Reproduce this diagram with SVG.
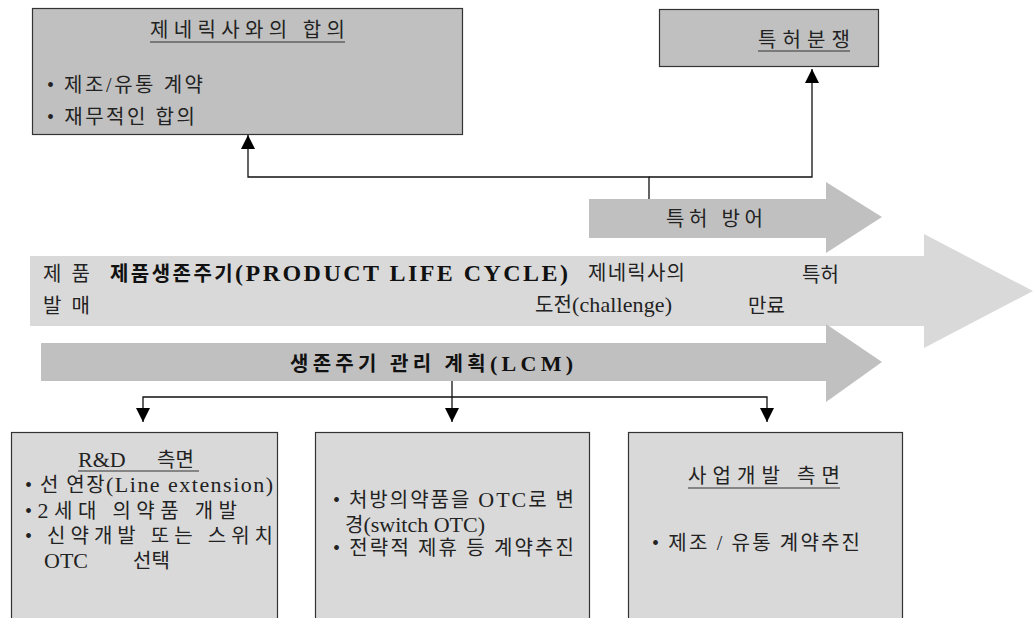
<svg xmlns="http://www.w3.org/2000/svg" width="1033" height="618" viewBox="0 0 1033 618">
<defs>
<style>
.t{font-family:"Liberation Serif","Noto Sans CJK KR",serif;font-size:20px;fill:#222}
.L{font-size:22px}
.BL{font-size:24px}
.b{font-weight:bold;fill:#111}
.box1{fill:#c0c0c0;stroke:#333;stroke-width:1.2}
.box2{fill:#d9d9d9;stroke:#333;stroke-width:1.2}
.ul{stroke:#333;stroke-width:1.2}
.arL{fill:#d9d9d9}
.arD{fill:#c0c0c0}
.c{fill:none;stroke:#111;stroke-width:1.3}
</style>
<marker id="ah" viewBox="0 0 10 10" refX="10" refY="5" markerWidth="15" markerHeight="14" orient="auto" markerUnits="userSpaceOnUse">
<path d="M0,0 L10,5 L0,10 z" fill="#000"/>
</marker>
</defs>
<rect width="1033" height="618" fill="#fff"/>

<g id="plc-arrow">
<polygon class="arL" points="30,256 924,256 924,234 1033,291 924,348 924,326 30,326"/>
<text class="t" x="43" y="281" textLength="47" lengthAdjust="spacing">제 품</text>
<text class="t b" x="110" y="281" textLength="458" lengthAdjust="spacing">제품생존주기<tspan class="BL">(PRODUCT LIFE CYCLE)</tspan></text>
<text class="t" x="588" y="280" textLength="97" lengthAdjust="spacing">제네릭사의</text>
<text class="t" x="802" y="282" textLength="37" lengthAdjust="spacing">특허</text>
<text class="t" x="43" y="313" textLength="47" lengthAdjust="spacing">발 매</text>
<text class="t" x="535" y="312" textLength="137" lengthAdjust="spacing">도전<tspan class="L">(challenge)</tspan></text>
<text class="t" x="748" y="313" textLength="37" lengthAdjust="spacing">만료</text>
</g>

<g id="defense-arrow">
<polygon class="arD" points="589,199 826,199 826,182 882,217 826,253 826,238 589,238"/>
<text class="t" x="666" y="226" textLength="97" lengthAdjust="spacing">특허 방어</text>
</g>

<g id="lcm-arrow">
<polygon class="arD" points="41,343 826,343 826,324 882,362 826,402 826,381 41,381"/>
<text class="t b" x="290" y="371" textLength="283" lengthAdjust="spacing">생존주기 관리 계획<tspan class="L">(LCM)</tspan></text>
</g>

<g id="generic-agreement">
<rect class="box1" x="32.5" y="8.5" width="430" height="126"/>
<text class="t" x="150" y="37" textLength="195" lengthAdjust="spacing">제네릭사와의 합의</text>
<line class="ul" x1="150" y1="42" x2="345" y2="42"/>
<text class="t" x="47" y="92" textLength="156" lengthAdjust="spacing">• 제조/유통 계약</text>
<text class="t" x="47" y="124" textLength="148" lengthAdjust="spacing">• 재무적인 합의</text>
</g>

<g id="patent-dispute">
<rect class="box1" x="659.5" y="9.5" width="219" height="57"/>
<text class="t" x="758" y="47" textLength="92" lengthAdjust="spacing">특허분쟁</text>
<line class="ul" x1="758" y1="51" x2="850" y2="51"/>
</g>

<g id="rnd">
<rect class="box2" x="11.5" y="432.5" width="266" height="200"/>
<text class="t L" x="78" y="467">R&amp;D</text>
<text class="t" x="157" y="467">측면</text>
<line class="ul" x1="78" y1="471" x2="199" y2="471"/>
<text class="t" x="25" y="492" textLength="248" lengthAdjust="spacing">• 선 연장<tspan class="L">(Line extension)</tspan></text>
<text class="t" x="25" y="518" textLength="212" lengthAdjust="spacing">•<tspan class="L">2</tspan>세대 의약품 개발</text>
<text class="t" x="25" y="543" textLength="248" lengthAdjust="spacing">• 신약개발 또는 스위치</text>
<text class="t L" x="44" y="568">OTC</text>
<text class="t" x="133" y="568">선택</text>
</g>

<g id="switch-otc">
<rect class="box2" x="315.5" y="432.5" width="274" height="200"/>
<text class="t" x="333" y="507" textLength="241" lengthAdjust="spacing">• 처방의약품을 <tspan class="L">OTC</tspan>로 변</text>
<text class="t" x="345" y="532" textLength="140" lengthAdjust="spacing">경<tspan class="L">(switch OTC)</tspan></text>
<text class="t" x="333" y="555" textLength="241" lengthAdjust="spacing">• 전략적 제휴 등 계약추진</text>
</g>

<g id="bizdev">
<rect class="box2" x="628.5" y="432.5" width="274" height="200"/>
<text class="t" x="688" y="483" textLength="152" lengthAdjust="spacing">사업개발 측면</text>
<line class="ul" x1="688" y1="488" x2="840" y2="488"/>
<text class="t" x="652" y="550" textLength="208" lengthAdjust="spacing">• 제조 / 유통 계약추진</text>
</g>

<g id="connectors">
<path class="c" d="M649,199 V177 H248 V135" marker-end="url(#ah)"/>
<path class="c" d="M649,177 H812 V69" marker-end="url(#ah)"/>
<path class="c" d="M452,381 V422" marker-end="url(#ah)"/>
<path class="c" d="M452,397 H143 V422" marker-end="url(#ah)"/>
<path class="c" d="M452,397 H767 V422" marker-end="url(#ah)"/>
</g>
</svg>
